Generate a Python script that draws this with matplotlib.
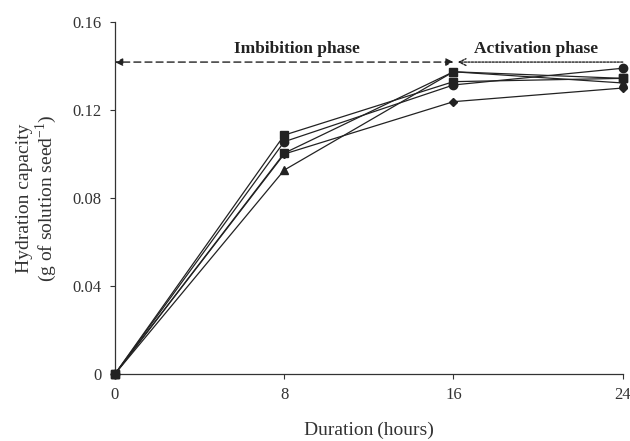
import matplotlib
matplotlib.use("Agg")
import matplotlib.pyplot as plt

plt.rcParams['font.family'] = ['Liberation Serif', 'DejaVu Serif']
plt.rcParams['mathtext.fontset'] = 'custom'
plt.rcParams['mathtext.rm'] = 'Liberation Serif'

hours = [0, 8, 16, 24]
series_diamond = [0, 0.1000, 0.1238, 0.1300]
series_square_a = [0, 0.1086, 0.1329, 0.1344]
series_triangle = [0, 0.0927, 0.1374, 0.1323]
series_circle = [0, 0.1056, 0.1314, 0.1390]
series_square_b = [0, 0.1004, 0.1374, 0.1344]

x_ticks = [0, 8, 16, 24]
y_ticks = [0, 0.04, 0.08, 0.12, 0.16]
y_tick_labels = ['0', '0.04', '0.08', '0.12', '0.16']

fig = plt.figure(figsize=(6.3, 4.41), dpi=100)
ax = fig.add_axes([0.1825, 0.152, 0.806, 0.798])

ink = '#222222'
for vals, mk, ms in [
    (series_diamond, 'D', 4.5),
    (series_triangle, '^', 6),
    (series_square_b, 's', 6),
    (series_circle, 'o', 6),
    (series_square_a, 's', 6),
]:
    ax.plot(hours, vals, color=ink, lw=0.9, marker=mk, markersize=ms,
            markerfacecolor=ink, markeredgecolor=ink, clip_on=False, zorder=3)

ax.set_xlim(0, 24)
ax.set_ylim(0, 0.16)
ax.set_xticks(x_ticks)
ax.set_yticks(y_ticks)
ax.set_yticklabels(y_tick_labels)
ax.tick_params(direction='out', length=3.5, width=0.8, labelsize=12, colors='#333333', pad=6)
for side in ['top', 'right']:
    ax.spines[side].set_visible(False)
for side in ['left', 'bottom']:
    ax.spines[side].set_linewidth(0.9)
    ax.spines[side].set_color('#333333')

ax.set_xlabel('Duration\u2009(hours)', fontsize=14, color='#333333', labelpad=13)
ax.set_ylabel('Hydration capacity\n(g of solution seed$^{\\mathregular{-1}}$)', fontsize=14,
              color='#333333', labelpad=10, linespacing=1.0)

# phase arrows
arrow_y = 0.1418
ax.annotate('', xy=(0, arrow_y), xytext=(16, arrow_y),
            arrowprops=dict(arrowstyle='<|-|>', linestyle=(0, (5, 3)), lw=1.0,
                            color=ink, shrinkA=0, shrinkB=0, mutation_scale=11))
ax.annotate('', xy=(16.2, arrow_y), xytext=(24, arrow_y),
            arrowprops=dict(arrowstyle='->', linestyle=(0, (1.5, 1)), lw=1.0,
                            color=ink, shrinkA=0, shrinkB=0, mutation_scale=12))
ax.text(8.6, 0.1478, 'Imbibition phase', fontsize=12.5, fontweight='bold',
        ha='center', va='center', color=ink)
ax.text(19.9, 0.1478, 'Activation phase', fontsize=12.5, fontweight='bold',
        ha='center', va='center', color=ink)

fig.savefig('out.png', dpi=100)
